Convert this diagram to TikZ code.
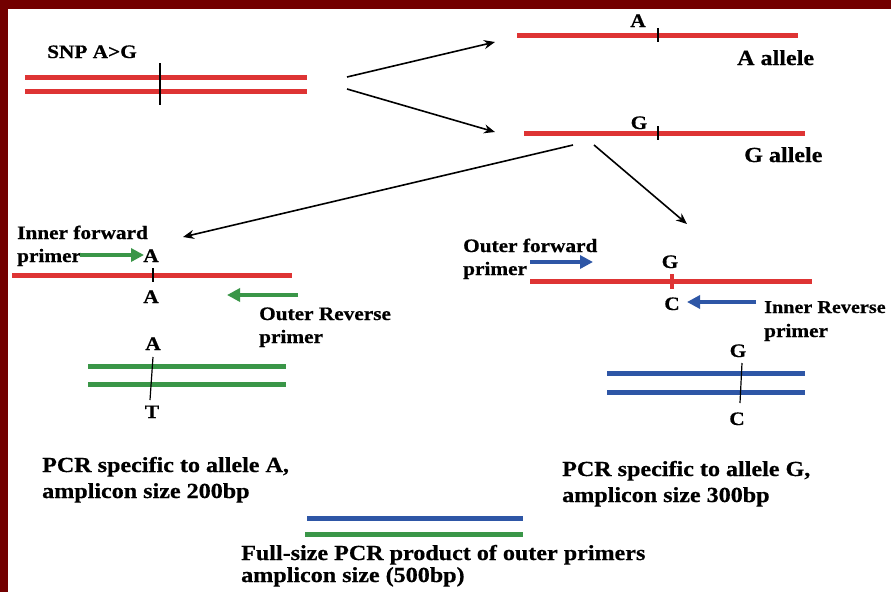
\documentclass[tikz,border=0pt]{standalone}
\usepackage{fontspec}
\setmainfont{Liberation Serif}[FakeStretch=1.12, BoldFeatures={FakeBold=0.6}]
\usetikzlibrary{arrows.meta}

\definecolor{snpred}{RGB}{222,52,52}
\definecolor{ampgreen}{RGB}{58,150,72}
\definecolor{ampblue}{RGB}{46,86,166}
\definecolor{slideframe}{RGB}{115,0,0}
\newcommand\lblfont{\fontsize{19}{23}\selectfont\bfseries}
\newcommand\capfont{\fontsize{21.5}{26}\selectfont\bfseries}

\tikzset{
  strand/.style={line width=5pt},
  snpmark/.style={line width=1.2pt, black},
  flow/.style={line width=1.6pt, -{Stealth[length=11pt,width=9pt]}},
  primerarrow/.style={line width=4.5pt, -{Triangle[length=13pt,width=13pt]}},
  lbl/.style={font=\lblfont, inner sep=0pt, anchor=base west},
  caption/.style={font=\capfont, inner sep=0pt, anchor=base west},
  nt/.style={font=\lblfont, inner sep=0pt, anchor=base},
}

\begin{document}
\begin{tikzpicture}[x=1pt, y=-1pt]
            \useasboundingbox (0,0) rectangle (891,592);
            \fill[white] (0,0) rectangle (891,592);
            \fill[slideframe] (0,0) rectangle (891,9);
            \fill[slideframe] (0,0) rectangle (8,592);

            \coordinate (dsA1) at (25,77);
            \coordinate (dsB1) at (307,77);
            \coordinate (dsA2) at (25,91);
            \coordinate (dsB2) at (307,91);
            \coordinate (alA1) at (517,35);
            \coordinate (alA2) at (798,35);
            \coordinate (alG1) at (524,133);
            \coordinate (alG2) at (805,133);

            % genomic SNP and the two alleles
            \draw[strand, snpred] (dsA1) -- (dsB1);
            \draw[strand, snpred] (dsA2) -- (dsB2);
            \draw[snpmark] (160,63) -- (160,105);
            \node[lbl] (snp) at (47,58) {SNP A>G};

            \draw[strand, snpred] (alA1) -- (alA2);
            \draw[snpmark] (658,28) -- (658,42);
            \node[nt] (baseA) at (638,27) {A};
            \node[caption] (alleleA) at (737,65) {A allele};

            \draw[strand, snpred] (alG1) -- (alG2);
            \draw[snpmark] (658,126) -- (658,140);
            \node[nt] (baseG) at (639,129) {G};
            \node[caption] (alleleG) at (744,162) {G allele};

            \coordinate (sp1) at (347,77);
            \coordinate (sp2) at (347,89);
            \coordinate (tA) at (495,42);
            \coordinate (tG) at (495,132);
            \coordinate (gs1) at (573,145);
            \coordinate (gs2) at (594,145);
            \coordinate (tL) at (183,237);
            \coordinate (tR) at (687,224);
            \draw[flow] (sp1) -- (tA);
            \draw[flow] (sp2) -- (tG);
            \draw[flow] (gs1) -- (tL);
            \draw[flow] (gs2) -- (tR);

            % allele A specific reaction
            \node[lbl] (ifwd) at (17,239) {Inner forward};
            \node[lbl] (ifwdp) at (17,262) {primer};
            \coordinate (ifA) at (80,255);
            \coordinate (ifB) at (144,255);
            \draw[primerarrow, ampgreen] (ifA) -- (ifB);
            \node[nt] (lA1) at (151,262) {A};
            \coordinate (lt1) at (12,275);
            \coordinate (lt2) at (292,275);
            \draw[strand, snpred] (lt1) -- (lt2);
            \draw[snpmark] (153,268) -- (153,282);
            \node[nt] (lA2) at (151,303) {A};
            \coordinate (orA) at (298,295);
            \coordinate (orB) at (227,295);
            \draw[primerarrow, ampgreen] (orA) -- (orB);
            \node[lbl] (orev) at (259,320) {Outer Reverse};
            \node[lbl] (orevp) at (259,343) {primer};

            \node[nt] (lA3) at (153,350) {A};
            \draw[strand, ampgreen] (88,366) -- (286,366);
            \draw[strand, ampgreen] (88,384) -- (286,384);
            \draw[snpmark] (153,357) -- (150,400);
            \node[nt] (lT) at (152,418) {T};
            \node[caption] (pcrA) at (42,472) {PCR specific to allele A,};
            \node[caption] (pcrA2) at (42,498) {amplicon size 200bp};

            % allele G specific reaction
            \node[lbl] (ofwd) at (463,252) {Outer forward};
            \node[lbl] (ofwdp) at (463,275) {primer};
            \coordinate (ofA) at (530,262);
            \coordinate (ofB) at (593,262);
            \draw[primerarrow, ampblue] (ofA) -- (ofB);
            \node[nt] (rG1) at (670,268) {G};
            \coordinate (rt1) at (530,281);
            \coordinate (rt2) at (812,281);
            \draw[strand, snpred] (rt1) -- (rt2);
            \draw[line width=4pt, snpred] (672,274) -- (672,289);
            \node[nt] (rC1) at (672,310) {C};
            \coordinate (irA) at (756,302);
            \coordinate (irB) at (687,302);
            \draw[primerarrow, ampblue] (irA) -- (irB);
            \node[lbl, font=\fontsize{18}{22}\selectfont\bfseries] (irev) at (764,313) {Inner Reverse};
            \node[lbl] (irevp) at (764,337) {primer};

            \node[nt] (rG2) at (738,357) {G};
            \draw[strand, ampblue] (607,373) -- (805,373);
            \draw[strand, ampblue] (607,392) -- (805,392);
            \draw[snpmark] (742,363) -- (740,403);
            \node[nt] (rC2) at (737,425) {C};
            \node[caption] (pcrG) at (562,476) {PCR specific to allele G,};
            \node[caption] (pcrG2) at (562,502) {amplicon size 300bp};

            % outer product
            \draw[strand, ampblue] (307,518) -- (523,518);
            \draw[strand, ampgreen] (305,534) -- (523,534);
            \node[caption] (full) at (241,560) {Full-size PCR product of outer primers};
            \node[caption] (full2) at (241,582) {amplicon size (500bp)};
        \end{tikzpicture}
\end{document}
